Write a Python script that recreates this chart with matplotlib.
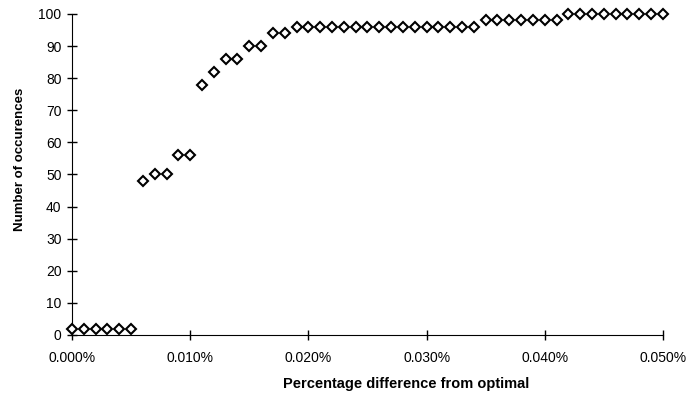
import numpy as np
from matplotlib import pyplot as plt

plt.rcParams['font.family'] = ['Liberation Sans', 'DejaVu Sans']

# percentage difference from optimal, step 0.001%
pct = np.arange(51) * 0.001
counts = [2, 2, 2, 2, 2, 2, 48, 50, 50, 56, 56, 78, 82, 86, 86, 90, 90, 94, 94,
          96, 96, 96, 96, 96, 96, 96, 96, 96, 96, 96, 96, 96, 96, 96, 96,
          98, 98, 98, 98, 98, 98, 98,
          100, 100, 100, 100, 100, 100, 100, 100, 100]
xticks = [0.0, 0.01, 0.02, 0.03, 0.04, 0.05]
yticks = list(range(0, 101, 10))

fig = plt.figure(figsize=(6.89, 4.01), dpi=100)
ax = fig.add_axes([0.1045, 0.1646, 0.8577, 0.8005])
ax.plot(pct, counts, linestyle='none', marker='D', markersize=5.5,
        markerfacecolor='white', markeredgecolor='black', markeredgewidth=1.5,
        clip_on=False, zorder=3)

ax.set_xlim(0, 0.05)
ax.set_ylim(0, 100)
ax.set_xticks(xticks)
ax.set_xticklabels(['%.3f%%' % v for v in xticks])
ax.set_yticks(yticks)
ax.spines['top'].set_visible(False)
ax.spines['right'].set_visible(False)
ax.tick_params(direction='inout', length=7, width=1, labelsize=10, pad=4)
ax.tick_params(axis='x', pad=8)

ax.set_xlabel('Percentage difference from optimal', fontsize=10.5, fontweight='bold')
ax.set_ylabel('Number of occurences', fontsize=9.5, fontweight='bold')
ax.xaxis.set_label_coords(0.565, -0.13)
ax.yaxis.set_label_coords(-0.078, 0.548)

fig.savefig('out.png', dpi=100)
